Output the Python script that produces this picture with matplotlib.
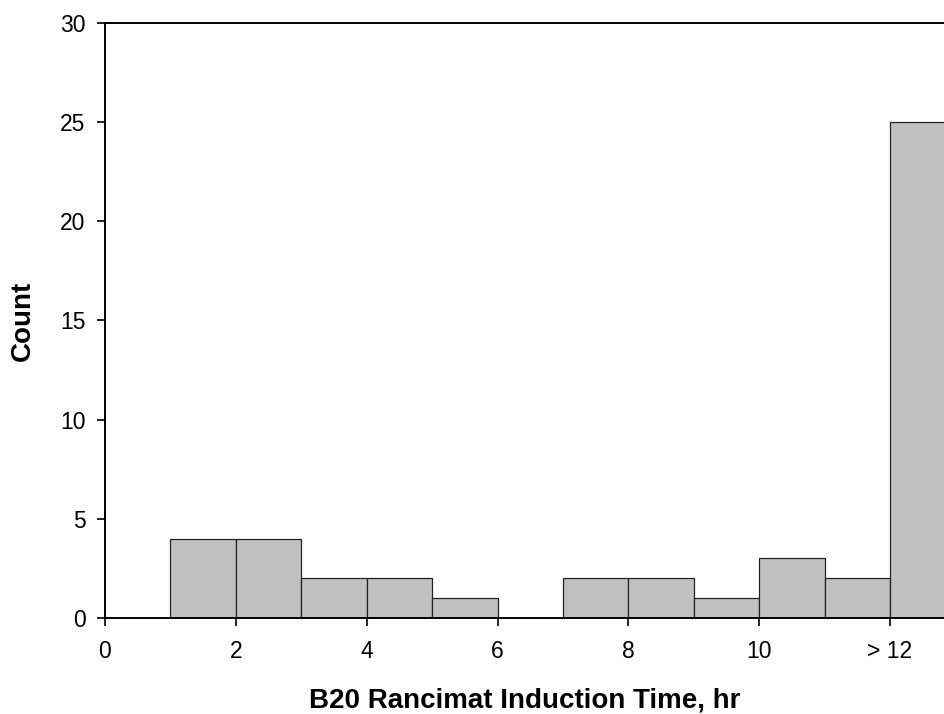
import numpy as np
import matplotlib.pyplot as plt

plt.rcParams['font.family'] = ['Liberation Sans', 'DejaVu Sans']

# histogram bins (hours) and counts; last bin collects everything above 12 h
bin_left = [1, 2, 3, 4, 5, 6, 7, 8, 9, 10, 11, 12]
counts = [4, 4, 2, 2, 1, 0, 2, 2, 1, 3, 2, 25]
xticks = [0, 2, 4, 6, 8, 10, 12]
xtick_labels = ['0', '2', '4', '6', '8', '10', '> 12']
yticks = [0, 5, 10, 15, 20, 25, 30]

fig = plt.figure(figsize=(9.45, 7.14), dpi=100)
ax = fig.add_axes([0.1111, 0.1345, 0.8889, 0.8333])

ax.bar(bin_left, counts, width=1.0, align='edge', color='#c0c0c0',
       edgecolor='#222222', linewidth=0.9, clip_on=True)

ax.set_xlim(0, 12.84)
ax.set_ylim(0, 30)
ax.set_xticks(xticks)
ax.set_xticklabels(xtick_labels)
ax.set_yticks(yticks)

ax.spines['right'].set_visible(False)
for s in ['left', 'bottom', 'top']:
    ax.spines[s].set_linewidth(1.4)
ax.tick_params(axis='both', direction='out', length=6, width=1.2,
               labelsize=16.5)
ax.tick_params(axis='x', pad=10)
ax.tick_params(axis='y', pad=8)

ax.set_xlabel('B20 Rancimat Induction Time, hr', fontsize=20,
              fontweight='bold', va='center')
ax.xaxis.set_label_coords(0.5, -0.138)
ax.set_ylabel('Count', fontsize=20, fontweight='bold', va='center')
ax.yaxis.set_label_coords(-0.0976, 0.5)

fig.savefig('out.png', dpi=100)
